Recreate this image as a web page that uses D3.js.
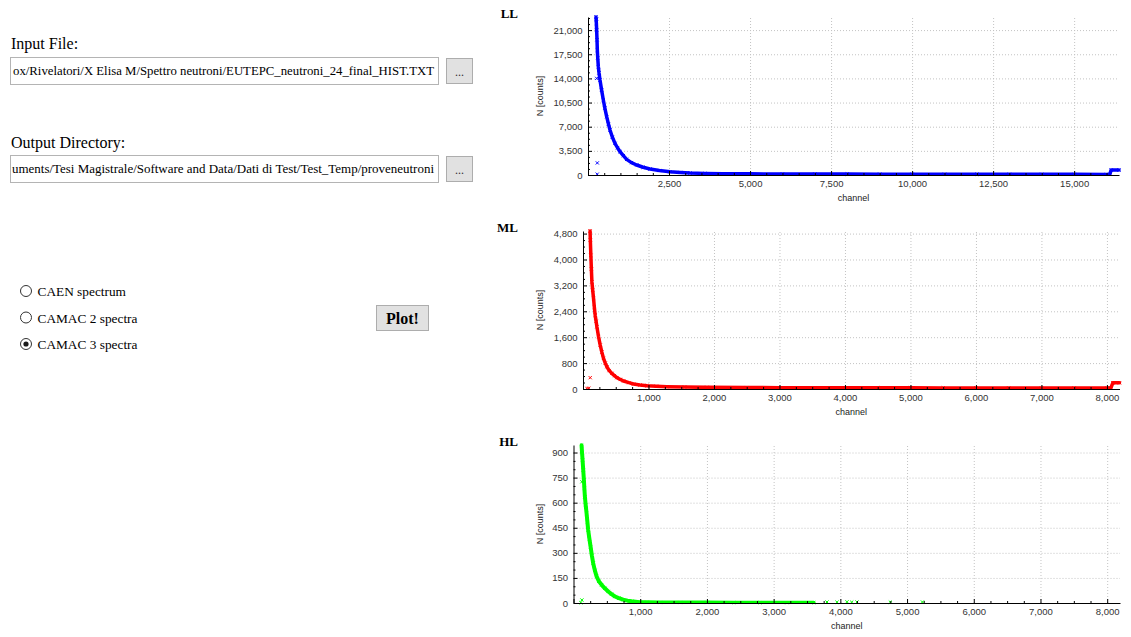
<!DOCTYPE html>
<html>
<head>
<meta charset="utf-8">
<script src="https://cdn.jsdelivr.net/npm/d3@7"></script>
<style>
  html, body { margin: 0; padding: 0; background: #fff; overflow: hidden; }
  svg { display: block; }
</style>
</head>
<body>
<svg id="app" width="1131" height="637"></svg>
<script>
// ---------- LL spectrum (16k channels) ----------
const llChannel = [247, 258, 267, 278, 288, 300, 319, 340, 370, 420, 473, 520, 576, 630, 679, 750, 833, 910, 988,
  1090, 1193, 1340, 1502, 1700, 1914, 2200, 2531, 2850, 3148, 3600, 4177, 5000, 6000, 7000, 8000, 9000, 10000,
  11000, 12000, 13000, 14000, 15000, 16000, 16100, 16140, 16384];
const llCounts = [22900, 22000, 21000, 19600, 18100, 17000, 15700, 14800, 13760, 12300, 10860, 9700, 8450, 7400, 6520,
  5500, 4590, 3950, 3380, 2800, 2270, 1800, 1450, 1120, 870, 650, 480, 370, 290, 230, 190, 170, 150, 140, 130, 125,
  120, 115, 110, 105, 100, 95, 90, 90, 720, 720];
const llStrayChannel = [262, 270, 288, 285];
const llStrayCounts = [22600, 14000, 1750, 120];
const llXTicks = [2500, 5000, 7500, 10000, 12500, 15000];
const llYTicks = [0, 3500, 7000, 10500, 14000, 17500, 21000];

// ---------- ML spectrum (8k channels) ----------
const mlChannel = [108, 112, 120, 128, 136, 148, 161, 173, 186, 200, 212, 237, 263, 288, 313, 340, 365, 400, 441, 480,
  517, 570, 619, 700, 771, 870, 976, 1120, 1281, 1550, 1892, 2500, 3000, 3500, 4000, 4500, 5000, 5500, 6000, 6500,
  7000, 7500, 8000, 8060, 8090, 8192];
const mlCounts = [4880, 4600, 4130, 3700, 3308, 3050, 2796, 2530, 2281, 2090, 1921, 1620, 1356, 1140, 946, 800, 688,
  570, 483, 410, 350, 295, 247, 195, 154, 125, 103, 85, 72, 60, 51, 45, 42, 40, 38, 36, 35, 34, 33, 32, 31, 30, 30,
  30, 190, 190];
const mlStrayChannel = [110, 60, 90];
const mlStrayCounts = [350, 20, 25];
const mlXTicks = [1000, 2000, 3000, 4000, 5000, 6000, 7000, 8000];
const mlYTicks = [0, 800, 1600, 2400, 3200, 4000, 4800];

// ---------- HL spectrum (8k channels) ----------
const hlChannel = [121, 128, 136, 146, 156, 163, 171, 183, 196, 208, 220, 238, 256, 275, 295, 320, 346, 380, 421, 470,
  520, 570, 621, 680, 745, 810, 871, 930, 995, 1100, 1300, 1600, 2000, 2400, 2800, 3200, 3600];
const hlCounts = [943, 900, 854, 795, 735, 685, 635, 585, 536, 486, 437, 385, 337, 285, 238, 195, 159, 130, 109, 88,
  69, 53, 39, 29, 20, 14, 10, 7, 4, 4, 3, 3, 3, 2, 2, 2, 2];
const hlStrayChannel = [126, 126, 110, 3800, 3950, 4100, 4170, 4250, 4750, 5230];
const hlStrayCounts = [725, 18, 2, 6, 5, 7, 5, 6, 5, 6];
const hlXTicks = [1000, 2000, 3000, 4000, 5000, 6000, 7000, 8000];
const hlYTicks = [0, 150, 300, 450, 600, 750, 900];

// ---------- control panel texts ----------
const inputLabel = "Input File:";
const inputPath = "ox/Rivelatori/X Elisa M/Spettro neutroni/EUTEPC_neutroni_24_final_HIST.TXT";
const outputLabel = "Output Directory:";
const outputPath = "uments/Tesi Magistrale/Software and Data/Dati di Test/Test_Temp/proveneutroni";
const modeOptions = ["CAEN spectrum", "CAMAC 2 spectra", "CAMAC 3 spectra"];
const selectedMode = 2;

const svg = d3.select("#app");
svg.append("rect").attr("width", 1131).attr("height", 637).attr("fill", "#fff");

const serif = "'Liberation Serif', 'Times New Roman', serif";
const sans = "'Liberation Sans', Arial, sans-serif";

// ---------- left control panel ----------
const ui = svg.append("g");

function pathField(labelText, labelY, boxY, pathText, textY, textStart) {
  ui.append("text").attr("x", 11).attr("y", labelY)
    .attr("font-family", serif).attr("font-size", 16).attr("fill", "#000").text(labelText);
  ui.append("rect").attr("x", 10.5).attr("y", boxY + 0.5).attr("width", 428).attr("height", 27)
    .attr("fill", "#fff").attr("stroke", "#b4b4b4");
  // scrolled path text, fitted to the visible part of the field
  ui.append("text").attr("x", textStart).attr("y", textY)
    .attr("textLength", 434 - textStart).attr("lengthAdjust", "spacingAndGlyphs")
    .attr("font-family", serif).attr("font-size", 13).attr("fill", "#000").text(pathText);
  // browse button
  ui.append("rect").attr("x", 446.5).attr("y", boxY + 1.5).attr("width", 26).attr("height", 25)
    .attr("fill", "#e1e1e1").attr("stroke", "#adadad");
  ui.append("text").attr("x", 459.5).attr("y", boxY + 19).attr("text-anchor", "middle")
    .attr("font-family", serif).attr("font-size", 12).attr("fill", "#333").text("...");
}
pathField(inputLabel, 49, 57, inputPath, 75, 13);
pathField(outputLabel, 148, 155, outputPath, 173, 12);

const radioY = [291, 317.5, 344];
modeOptions.forEach((label, i) => {
  ui.append("circle").attr("cx", 26).attr("cy", radioY[i]).attr("r", 5.5)
    .attr("fill", "#fff").attr("stroke", "#333").attr("stroke-width", 1);
  if (i === selectedMode) {
    ui.append("circle").attr("cx", 26).attr("cy", radioY[i]).attr("r", 2.6).attr("fill", "#1a1a1a");
  }
  ui.append("text").attr("x", 37.5).attr("y", radioY[i] + 5)
    .attr("font-family", serif).attr("font-size", 13.33).attr("fill", "#000").text(label);
});

ui.append("rect").attr("x", 376.5).attr("y", 305.5).attr("width", 52).attr("height", 25)
  .attr("fill", "#e1e1e1").attr("stroke", "#adadad");
ui.append("text").attr("x", 402.5).attr("y", 324).attr("text-anchor", "middle")
  .attr("font-family", serif).attr("font-weight", "bold").attr("font-size", 16).attr("fill", "#000").text("Plot!");

// ---------- spectrum charts ----------
const panels = [
  { name: "LL", color: "#0000ff", ch: llChannel, n: llCounts, sCh: llStrayChannel, sN: llStrayCounts,
    xMax: 16384, yMax: 22900, xTicks: llXTicks, yTicks: llYTicks, xMinor: 5, yMinor: 4,
    left: 588, right: 1119, bottom: 175, top: 17, titleY: 18, band: 3.5 },
  { name: "ML", color: "#ff0000", ch: mlChannel, n: mlCounts, sCh: mlStrayChannel, sN: mlStrayCounts,
    xMax: 8192, yMax: 4880, xTicks: mlXTicks, yTicks: mlYTicks, xMinor: 4, yMinor: 4,
    left: 583, right: 1119.5, bottom: 389, top: 231, titleY: 232, band: 3.5 },
  { name: "HL", color: "#00ff00", ch: hlChannel, n: hlCounts, sCh: hlStrayChannel, sN: hlStrayCounts,
    xMax: 8192, yMax: 945, xTicks: hlXTicks, yTicks: hlYTicks, xMinor: 4, yMinor: 3,
    left: 573.5, right: 1120, bottom: 603, top: 445, titleY: 446, band: 4 }
];

function minorValues(majors, divisions, max) {
  const all = [0, ...majors.filter(v => v > 0)];
  const step = (all[1] - all[0]) / divisions;
  const out = [];
  for (let v = step; v < max; v += step) {
    if (!all.some(m => Math.abs(m - v) < step / 10)) out.push(v);
  }
  return out;
}

panels.forEach((p, pi) => {
  const x = d3.scaleLinear().domain([0, p.xMax]).range([p.left, p.right]);
  const y = d3.scaleLinear().domain([0, p.yMax]).range([p.bottom, p.top]);
  const g = svg.append("g");

  g.append("text").attr("x", 518).attr("y", p.titleY).attr("text-anchor", "end")
    .attr("font-family", serif).attr("font-weight", "bold").attr("font-size", 13).attr("fill", "#000")
    .text(p.name);

  // dotted grid
  const gx = g.append("g").attr("transform", `translate(0,${p.bottom})`)
    .call(d3.axisBottom(x).tickValues(p.xTicks).tickSize(-(p.bottom - p.top)).tickFormat(""));
  const gy = g.append("g").attr("transform", `translate(${p.left},0)`)
    .call(d3.axisLeft(y).tickValues(p.yTicks.filter(v => v > 0)).tickSize(-(p.right - p.left)).tickFormat(""));
  [gx, gy].forEach(a => {
    a.select(".domain").remove();
    a.selectAll("line").attr("stroke", "#c3c3c3").attr("stroke-dasharray", "1,2");
  });

  // spectrum band and markers
  const clipId = "plotClip" + pi;
  svg.append("defs").append("clipPath").attr("id", clipId)
    .append("rect").attr("x", p.left).attr("y", 0).attr("width", p.right - p.left + 3).attr("height", p.bottom);
  const pts = p.ch.map((c, i) => [c, p.n[i]]);
  const line = d3.line().x(d => x(d[0])).y(d => y(d[1]));
  g.append("path").datum(pts).attr("d", line).attr("clip-path", `url(#${clipId})`)
    .attr("fill", "none").attr("stroke", p.color).attr("stroke-width", p.band)
    .attr("stroke-linejoin", "round").attr("stroke-linecap", "round");
  const cross = "M-1.6,-1.6L1.6,1.6M-1.6,1.6L1.6,-1.6";
  const stray = p.sCh.map((c, i) => [c, p.sN[i]]);
  g.append("g").selectAll("path").data(pts.concat(stray)).join("path")
    .attr("d", cross).attr("transform", d => `translate(${x(d[0])},${y(d[1])})`)
    .attr("fill", "none").attr("stroke", p.color).attr("stroke-width", 1);

  // minor ticks
  const mx = g.append("g").attr("transform", `translate(0,${p.bottom})`)
    .call(d3.axisBottom(x).tickValues(minorValues(p.xTicks, p.xMinor, p.xMax)).tickSize(-2).tickFormat(""));
  const my = g.append("g").attr("transform", `translate(${p.left},0)`)
    .call(d3.axisLeft(y).tickValues(minorValues(p.yTicks, p.yMinor, p.yMax)).tickSize(-2).tickFormat(""));
  [mx, my].forEach(a => { a.select(".domain").remove(); a.selectAll("line").attr("stroke", "#000"); });

  // main axes
  const fmt = d3.format(",");
  const ax = g.append("g").attr("transform", `translate(0,${p.bottom})`)
    .call(d3.axisBottom(x).tickValues([0, ...p.xTicks]).tickSize(-4).tickSizeOuter(0).tickPadding(5.5)
      .tickFormat(v => v === 0 ? "" : fmt(v)));
  const ay = g.append("g").attr("transform", `translate(${p.left},0)`)
    .call(d3.axisLeft(y).tickValues(p.yTicks).tickSize(-4).tickSizeOuter(0).tickPadding(5.5).tickFormat(fmt));
  [ax, ay].forEach(a => {
    a.attr("font-family", sans).attr("font-size", 9.5);
    a.select(".domain").attr("stroke", "#000");
    a.selectAll("line").attr("stroke", "#000");
    a.selectAll("text").attr("fill", "#333");
  });

  // axis titles
  g.append("text").attr("x", (p.left + p.right) / 2).attr("y", p.bottom + 26).attr("text-anchor", "middle")
    .attr("font-family", sans).attr("font-size", 9).attr("fill", "#222").text("channel");
  g.append("text").attr("transform", `translate(543,${(p.top + p.bottom) / 2}) rotate(-90)`)
    .attr("text-anchor", "middle").attr("font-family", sans).attr("font-size", 9).attr("fill", "#222")
    .text("N [counts]");
});
</script>
</body>
</html>
